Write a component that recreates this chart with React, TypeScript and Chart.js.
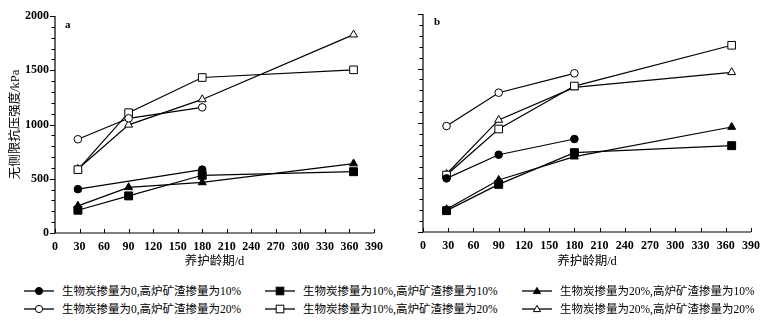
import React, { useEffect, useRef } from "react";
import { Chart, registerables } from "chart.js";
Chart.register(...registerables);

// ---------- data ----------
const daysA = [28, 90, 180, 365];
const daysB = [28, 90, 180, 367];

const seriesNames = [
  "生物炭掺量为0,高炉矿渣掺量为10%",
  "生物炭掺量为10%,高炉矿渣掺量为10%",
  "生物炭掺量为20%,高炉矿渣掺量为10%",
  "生物炭掺量为0,高炉矿渣掺量为20%",
  "生物炭掺量为10%,高炉矿渣掺量为20%",
  "生物炭掺量为20%,高炉矿渣掺量为20%",
];

// panel a
const a_bc0_s10 = [404, null, 584, null];
const a_bc10_s10 = [210, 342, 532, 565];
const a_bc20_s10 = [250, 421, 466, 640];
const a_bc0_s20 = [864, 1057, 1158, null];
const a_bc10_s20 = [584, 1109, 1433, 1504];
const a_bc20_s20 = [590, 997, 1231, 1828];

// panel b
const b_bc0_s10 = [492, 709, 853, null];
const b_bc10_s10 = [196, 437, 728, 792];
const b_bc20_s10 = [208, 477, 691, 963];
const b_bc0_s20 = [972, 1278, 1456, null];
const b_bc10_s20 = [523, 945, 1339, 1713];
const b_bc20_s20 = [532, 1028, 1327, 1465];

const valuesA = [a_bc0_s10, a_bc10_s10, a_bc20_s10, a_bc0_s20, a_bc10_s20, a_bc20_s20];
const valuesB = [b_bc0_s10, b_bc10_s10, b_bc20_s10, b_bc0_s20, b_bc10_s20, b_bc20_s20];

const xTickStep = 30;
const yMajorStep = 500;
const yMinorStep = 100;
const yTitle = "无侧限抗压强度/kPa";
const xTitle = "养护龄期/d";

// ---------- styles ----------
const FONT = '"Liberation Serif", "Noto Sans CJK SC", serif';
const markers = [
  { style: "circle", radius: 3.8, filled: true },
  { style: "rect", radius: 5.6, filled: true },
  { style: "triangle", radius: 4.6, filled: true },
  { style: "circle", radius: 3.8, filled: false },
  { style: "rect", radius: 5.4, filled: false },
  { style: "triangle", radius: 4.6, filled: false },
];

const axesPlugin = {
  id: "customAxes",
  afterDraw(chart: any, _args: any, opts: any) {
    const { ctx, chartArea } = chart;
    const xs = chart.scales.x;
    const ys = chart.scales.y;
    ctx.save();
    ctx.strokeStyle = "#000";
    ctx.lineWidth = 1.2;
    ctx.beginPath();
    ctx.moveTo(chartArea.left, chartArea.top);
    ctx.lineTo(chartArea.left, chartArea.bottom);
    ctx.lineTo(chartArea.right, chartArea.bottom);
    ctx.stroke();
    ctx.lineWidth = 1;
    ctx.beginPath();
    for (let v = ys.min; v <= ys.max; v += yMinorStep) {
      const y = Math.round(ys.getPixelForValue(v)) + 0.5;
      const len = v % yMajorStep === 0 ? 5 : 3.5;
      ctx.moveTo(chartArea.left - len, y);
      ctx.lineTo(chartArea.left, y);
    }
    for (let v = xs.min; v <= xs.max; v += xTickStep) {
      const x = Math.round(xs.getPixelForValue(v)) + 0.5;
      ctx.moveTo(x, chartArea.bottom);
      ctx.lineTo(x, chartArea.bottom - 4);
    }
    ctx.stroke();
    if (opts && opts.label) {
      ctx.fillStyle = "#000";
      ctx.font = "bold 11px " + FONT;
      ctx.textAlign = "left";
      ctx.textBaseline = "middle";
      ctx.fillText(opts.label, chartArea.left + opts.lx, chartArea.top + opts.ly);
    }
    ctx.restore();
  },
};

type PanelProps = {
  days: number[];
  values: (number | null)[][];
  left: number;
  width: number;
  height: number;
  padTop: number;
  padRight: number;
  yWidth: number;
  xHeight: number;
  showY: boolean;
  label: string;
  lx: number;
  ly: number;
};

function Panel(p: PanelProps) {
  const ref = useRef<HTMLCanvasElement | null>(null);
  useEffect(() => {
    if (!ref.current) return;
    const chart = new Chart(ref.current, {
      type: "line",
      data: {
        datasets: p.values.map((vals, i) => ({
          label: seriesNames[i],
          data: p.days.map((d, j) => ({ x: d, y: vals[j] })),
          spanGaps: true,
          borderColor: "#000",
          borderWidth: 1.2,
          tension: 0,
          pointStyle: markers[i].style as any,
          pointRadius: markers[i].radius,
          pointBackgroundColor: markers[i].filled ? "#000" : "#fff",
          pointBorderColor: "#000",
          pointBorderWidth: 1,
        })),
      },
      options: {
        animation: false,
        responsive: false,
        maintainAspectRatio: false,
        events: [],
        plugins: {
          legend: { display: false },
          tooltip: { enabled: false },
          customAxes: { label: p.label, lx: p.lx, ly: p.ly },
        } as any,
        layout: { padding: { left: 0, top: p.padTop, right: p.padRight, bottom: 0 } },
        scales: {
          x: {
            type: "linear",
            min: 0,
            max: 390,
            ticks: {
              stepSize: xTickStep,
              autoSkip: false,
              maxRotation: 0,
              padding: 7,
              color: "#000",
              font: { family: FONT, size: 12, weight: "bold" },
              callback: (v: any) => String(v),
            },
            grid: { display: false, drawTicks: false },
            border: { display: false },
            title: {
              display: true,
              text: xTitle,
              color: "#000",
              font: { family: FONT, size: 12.5 },
              padding: { top: 0, bottom: 3 },
            },
            afterFit: (s: any) => {
              s.height = p.xHeight;
            },
          },
          y: {
            type: "linear",
            min: 0,
            max: 2000,
            ticks: {
              display: p.showY,
              stepSize: yMajorStep,
              padding: 6,
              color: "#000",
              font: { family: FONT, size: 12, weight: "bold" },
              callback: (v: any) => String(v),
            },
            grid: { display: false, drawTicks: false },
            border: { display: false },
            title: {
              display: p.showY,
              text: yTitle,
              color: "#000",
              font: { family: FONT, size: 12.5 },
              padding: { top: 8, bottom: 0 },
            },
            afterFit: (s: any) => {
              s.width = p.yWidth;
            },
          },
        },
      },
      plugins: [axesPlugin],
    });
    return () => chart.destroy();
  }, []);
  return (
    <canvas
      ref={ref}
      width={p.width}
      height={p.height}
      style={{ position: "absolute", left: p.left, top: 0, width: p.width, height: p.height, display: "block" }}
    />
  );
}

function LegendMarker({ i }: { i: number }) {
  const m = markers[i];
  const fill = m.filled ? "#000" : "#fff";
  const cx = 15;
  const cy = 6;
  let shape: React.ReactNode = null;
  if (m.style === "circle") {
    shape = <circle cx={cx} cy={cy} r={3.6} fill={fill} stroke="#000" strokeWidth={1} />;
  } else if (m.style === "rect") {
    shape = <rect x={cx - 3.8} y={cy - 3.8} width={7.6} height={7.6} fill={fill} stroke="#000" strokeWidth={1} />;
  } else {
    shape = (
      <polygon
        points={`${cx},${cy - 3.6} ${cx + 3.6},${cy + 2.6} ${cx - 3.6},${cy + 2.6}`}
        fill={fill}
        stroke="#000"
        strokeWidth={1}
      />
    );
  }
  return (
    <svg width={30} height={12} style={{ position: "absolute", left: 0, top: 0 }}>
      <line x1={0} y1={cy} x2={30} y2={cy} stroke="#000" strokeWidth={1.3} />
      {shape}
    </svg>
  );
}

const legendCols = [24, 265, 522];
const legendRows = [291, 309];

export default function App() {
  return (
    <div style={{ position: "absolute", left: 0, top: 0, width: 770, height: 323, background: "#fff", overflow: "hidden" }}>
      <Panel
        days={daysA}
        values={valuesA}
        left={0}
        width={390}
        height={272}
        padTop={16}
        padRight={12}
        yWidth={55}
        xHeight={39}
        showY={true}
        label="a"
        lx={10}
        ly={9}
      />
      <Panel
        days={daysB}
        values={valuesB}
        left={385}
        width={385}
        height={272}
        padTop={14}
        padRight={19}
        yWidth={38}
        xHeight={40}
        showY={false}
        label="b"
        lx={11}
        ly={8}
      />
      {seriesNames.map((name, i) => {
        const col = i % 3;
        const row = Math.floor(i / 3);
        return (
          <div
            key={i}
            style={{
              position: "absolute",
              left: legendCols[col],
              top: legendRows[row] - 6,
              height: 12,
              whiteSpace: "nowrap",
            }}
          >
            <LegendMarker i={i} />
            <span
              style={{
                position: "absolute",
                left: 38,
                top: -2,
                fontFamily: FONT,
                fontSize: 11.5,
                lineHeight: "16px",
                color: "#000",
              }}
            >
              {name}
            </span>
          </div>
        );
      })}
    </div>
  );
}
